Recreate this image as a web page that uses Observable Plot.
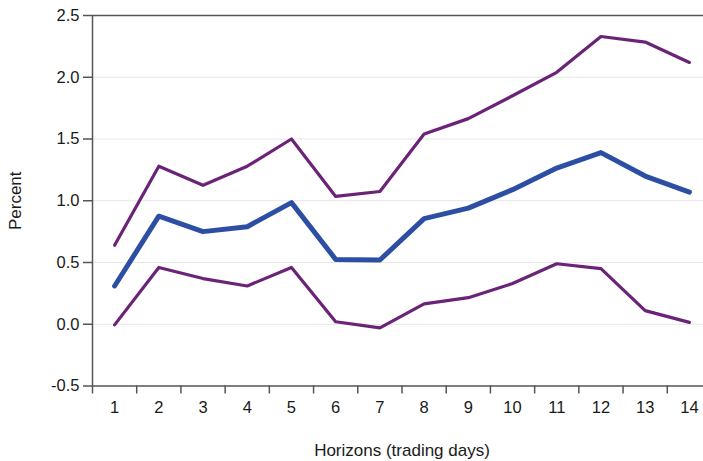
<!DOCTYPE html>
<html>
<head>
<meta charset="utf-8">
<script src="https://cdn.jsdelivr.net/npm/d3@7"></script>
<script src="https://cdn.jsdelivr.net/npm/@observablehq/plot@0.6"></script>
<style>
  html, body { margin: 0; padding: 0; background: #fff; }
  #chart svg { display: block; }
  #chart svg text { fill: #1a1a1a; }
  #chart svg [aria-label$="tick label"] text { font-size: 16.5px; }
  #chart svg [aria-label$="axis label"] text { font-size: 17px; }
</style>
</head>
<body>
<div id="chart"></div>
<script>
const horizons = [1, 2, 3, 4, 5, 6, 7, 8, 9, 10, 11, 12, 13, 14];
const estimate = [0.31, 0.875, 0.75, 0.79, 0.985, 0.525, 0.52, 0.855, 0.94, 1.09, 1.265, 1.39, 1.2, 1.07];
const upper = [0.64, 1.28, 1.125, 1.28, 1.50, 1.035, 1.075, 1.54, 1.665, 1.85, 2.04, 2.33, 2.285, 2.12];
const lower = [-0.005, 0.46, 0.37, 0.31, 0.46, 0.02, -0.03, 0.165, 0.215, 0.33, 0.49, 0.45, 0.11, 0.015];
const yTicks = [-0.5, 0.0, 0.5, 1.0, 1.5, 2.0, 2.5];
const gridTicks = [0.0, 0.5, 1.0, 1.5, 2.0];
const xBoundaries = [0.5, 1.5, 2.5, 3.5, 4.5, 5.5, 6.5, 7.5, 8.5, 9.5, 10.5, 11.5, 12.5, 13.5];

const rows = (vals) => horizons.map((h, i) => ({h, v: vals[i]}));
const fmtY = (d) => d.toFixed(1);

const chart = Plot.plot({
  width: 703,
  height: 461,
  marginLeft: 92,
  marginRight: -8,
  marginTop: 15,
  marginBottom: 75.5,
  style: {fontFamily: "'Liberation Sans', Arial, sans-serif", fontSize: "16px", color: "#1a1a1a", background: "#fff"},
  x: {domain: [0.5, 14.5]},
  y: {domain: [-0.5, 2.5]},
  marks: [
    Plot.ruleY(gridTicks, {stroke: "#e6e6e6", strokeWidth: 1}),
    Plot.ruleY([2.5], {stroke: "#555", strokeWidth: 1.5}),
    Plot.ruleY([-0.5], {stroke: "#555", strokeWidth: 1.5}),
    Plot.ruleX([0.5], {stroke: "#555", strokeWidth: 1.5}),
    Plot.axisY({ticks: yTicks, tickFormat: fmtY, tickSize: 9, tickPadding: 4, stroke: "#555", strokeWidth: 1.5, fontSize: 16.5,
      label: "Percent", labelAnchor: "center", labelArrow: "none", labelOffset: 84}),
    Plot.axisX({ticks: xBoundaries, tickFormat: () => "", tickSize: 8, stroke: "#555", strokeWidth: 1.5, label: null}),
    Plot.axisX({ticks: horizons, tickFormat: d3.format("d"), tickSize: 0, tickPadding: 15, fontSize: 16.5,
      label: "Horizons (trading days)", labelAnchor: "center", labelArrow: "none", labelOffset: 70}),
    Plot.line(rows(upper), {x: "h", y: "v", stroke: "#6b2378", strokeWidth: 3.2}),
    Plot.line(rows(lower), {x: "h", y: "v", stroke: "#6b2378", strokeWidth: 3.2}),
    Plot.line(rows(estimate), {x: "h", y: "v", stroke: "#2d4fa3", strokeWidth: 5})
  ]
});
document.getElementById("chart").appendChild(chart);
</script>
</body>
</html>
